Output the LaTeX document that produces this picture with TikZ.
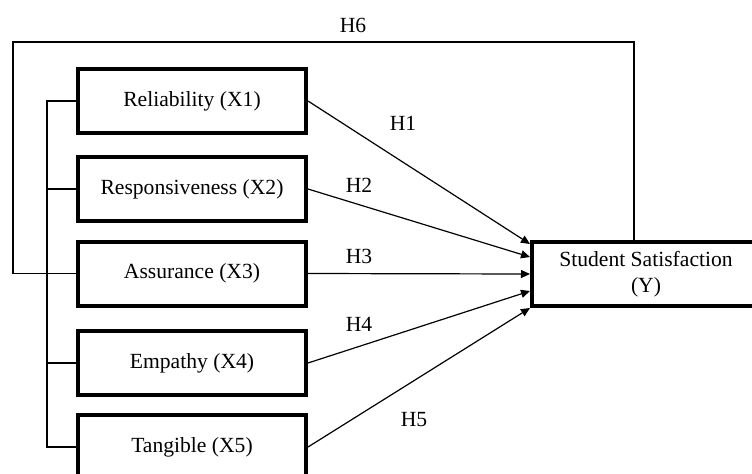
\documentclass[tikz,border=0pt]{standalone}
\usepackage{fontspec}
\setmainfont{Liberation Serif}
\usetikzlibrary{positioning, calc, arrows.meta}

\tikzset{
    factor/.style={draw, line width=2pt, minimum width=114pt, minimum height=32pt,
        inner sep=0pt, align=center, font=\fontsize{10.8}{13}\selectfont},
    link/.style={line width=0.6pt},
    effect/.style={link, -{Triangle[length=4.5pt, width=4pt]}},
    hyp/.style={inner sep=0pt, font=\fontsize{10.8}{13}\selectfont}
}

\begin{document}
\begin{tikzpicture}[x=0.5pt, y=-0.5pt]
    \useasboundingbox (0,0) rectangle (752,473);
    \clip (0,0) rectangle (752,473);

    % factor boxes
    \foreach \name/\txt/\ypos in {
        rel/Reliability (X1)/101,
        resp/Responsiveness (X2)/189,
        assur/Assurance (X3)/273.5,
        emp/Empathy (X4)/363,
        tang/Tangible (X5)/447}
    {
        \node[factor] (\name) at (192,\ypos) {\txt};
    }

    % dependent variable
    \node[factor] (stud) at (646,274) {Student Satisfaction\\(Y)};

    % bracket on the left
    \coordinate (brk) at (47,0);
    \draw[link] (rel.west) -- (rel.west -| brk) -- (tang.west -| brk) -- (tang.west);
    \foreach \name in {resp, emp}
    {
        \draw[link] (\name.west) -- (\name.west -| brk);
    }

    % H6 loop
    \coordinate (topL) at (13,42);
    \coordinate (topR) at (634,42);
    \draw[link] (assur.west) -| (topL) -- (topR) -- (topR |- stud.north);

    % arrows into Y
    \foreach \name/\dy in {rel/-30, resp/-17, assur/0, emp/17, tang/34}
    {
        \draw[effect] (\name.east) -- ($(stud.west)+(0,\dy)$);
    }

    % hypothesis labels
    \foreach \i/\xpos/\ypos in {
        1/403/123,
        2/359/185,
        3/359/256,
        4/359/324,
        5/414/420,
        6/353/25}
    {
        \node[hyp] (h\i) at (\xpos,\ypos) {H\i};
    }
\end{tikzpicture}
\end{document}
